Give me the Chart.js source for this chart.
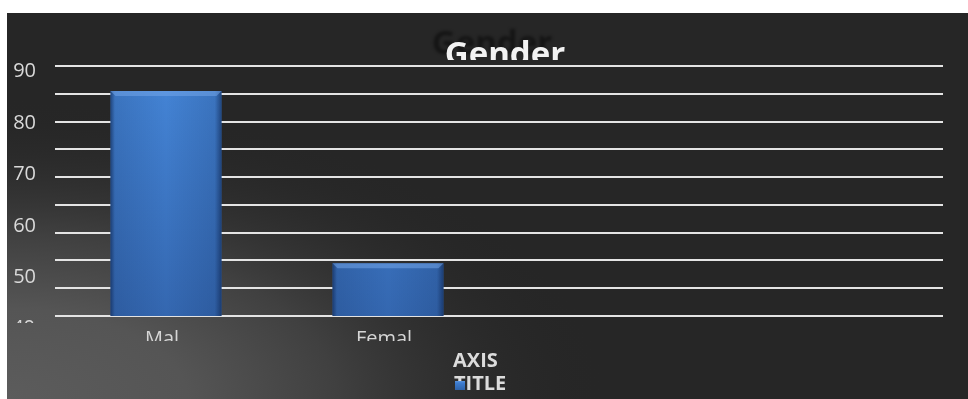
<!DOCTYPE html>
<html>
<head>
<meta charset="utf-8">
<script src="https://cdn.jsdelivr.net/npm/chart.js@4.4.1/dist/chart.umd.min.js"></script>
<style>
    html, body { margin: 0; padding: 0; background: #fff; }
    #wrap { position: absolute; left: 7px; top: 13px; width: 961px; height: 386px; }
</style>
</head>
<body>
<div id="wrap"><canvas id="genderChart"></canvas></div>
<script>
var categories = ['Mal', 'Femal', '', ''];
var counts = [85.5, 54.5, null, null];
var yTicks = [90, 80, 70, 60, 50];
var lowTickLabel = '40';
var chartTitle = 'Gender';
var axisTitle = ['AXIS', 'TITLE'];

var FONT = "'Open Sans', 'DejaVu Sans', sans-serif";

// dark panel with a soft light patch in the lower left corner
function paintBackground(ctx, w, h, x, y, rw, rh) {
    ctx.save();
    ctx.beginPath();
    ctx.rect(x, y, rw, rh);
    ctx.clip();
    ctx.fillStyle = '#262626';
    ctx.fillRect(x, y, rw, rh);
    ctx.translate(0, h);
    ctx.scale(2, 1);
    var g = ctx.createRadialGradient(0, 0, 0, 0, 0, 300);
    g.addColorStop(0, '#5c5c5c');
    g.addColorStop(0.3, '#555555');
    g.addColorStop(0.55, '#404040');
    g.addColorStop(1, 'rgba(38,38,38,0)');
    ctx.fillStyle = g;
    ctx.fillRect(-10, -h - 10, w, h + 20);
    ctx.restore();
}

var panelPlugin = {
    id: 'panel',
    beforeDraw: function (chart) {
        paintBackground(chart.ctx, chart.width, chart.height, 0, 0, chart.width, chart.height);
    },
    afterDatasetsDraw: function (chart) {
        var ctx = chart.ctx;
        var area = chart.chartArea;
        var meta = chart.getDatasetMeta(0);
        meta.data.forEach(function (bar, i) {
            if (counts[i] == null) return;
            var p = bar.getProps(['x', 'y', 'base', 'width'], true);
            var l = p.x - p.width / 2, r = p.x + p.width / 2;
            var t = Math.max(p.y, area.top), b = Math.min(p.base, area.bottom);
            ctx.save();
            // darker side edges
            var gs = ctx.createLinearGradient(l, 0, r, 0);
            gs.addColorStop(0, 'rgba(10,30,70,0.6)');
            gs.addColorStop(0.04, 'rgba(10,30,70,0.15)');
            gs.addColorStop(0.5, 'rgba(10,30,70,0)');
            gs.addColorStop(0.94, 'rgba(10,30,70,0.15)');
            gs.addColorStop(1, 'rgba(10,30,70,0.6)');
            ctx.fillStyle = gs;
            ctx.fillRect(l, t, r - l, b - t);
            // light bevel along the top
            var bv = 5;
            ctx.beginPath();
            ctx.moveTo(l, t);
            ctx.lineTo(r, t);
            ctx.lineTo(r - bv, t + bv);
            ctx.lineTo(l + bv, t + bv);
            ctx.closePath();
            ctx.fillStyle = 'rgba(120,170,235,0.5)';
            ctx.fill();
            ctx.restore();
        });
    },
    afterDraw: function (chart) {
        var ctx = chart.ctx;
        var area = chart.chartArea;

        // category labels are cut off just below their top half
        paintBackground(ctx, chart.width, chart.height, area.left, 328, area.right - area.left, 10);

        // half-hidden lowest value label
        ctx.save();
        ctx.beginPath();
        ctx.rect(0, 306, area.left, 4);
        ctx.clip();
        ctx.font = '20px ' + FONT;
        ctx.fillStyle = '#d9d9d9';
        ctx.textAlign = 'right';
        ctx.textBaseline = 'alphabetic';
        ctx.fillText(lowTickLabel, 28, 321);
        ctx.restore();

        // title with its blurred shadow copy, clipped at the top grid line
        var cx = 498;
        ctx.save();
        ctx.beginPath();
        ctx.rect(0, 0, chart.width, 47);
        ctx.clip();
        ctx.font = 'bold 33px ' + FONT;
        ctx.textAlign = 'center';
        ctx.textBaseline = 'alphabetic';
        ctx.filter = 'blur(1.5px)';
        ctx.fillStyle = 'rgba(0,0,0,0.45)';
        ctx.fillText(chartTitle, cx - 13, 52 - 11);
        ctx.filter = 'none';
        ctx.fillStyle = '#f2f2f2';
        ctx.fillText(chartTitle, cx, 52);
        ctx.restore();

        // x axis title
        ctx.save();
        ctx.font = 'bold 20px ' + FONT;
        ctx.fillStyle = '#dcdcdc';
        ctx.textAlign = 'left';
        ctx.textBaseline = 'alphabetic';
        ctx.fillText(axisTitle[0], 446, 354);
        ctx.fillText(axisTitle[1], 447, 377);
        // legend swatch sitting on the axis title
        var sg = ctx.createLinearGradient(0, 367, 0, 377);
        sg.addColorStop(0, '#6aa2e6');
        sg.addColorStop(0.3, '#3d7cd0');
        sg.addColorStop(1, '#2f63a8');
        ctx.fillStyle = sg;
        ctx.fillRect(448, 368, 10, 9);
        ctx.restore();
    }
};

var ctx = document.getElementById('genderChart');

new Chart(ctx, {
    type: 'bar',
    data: {
        labels: categories,
        datasets: [{
            label: '',
            data: counts,
            backgroundColor: function (c) {
                var area = c.chart.chartArea;
                if (!area) return '#3b78c8';
                var g = c.chart.ctx.createLinearGradient(0, area.top, 0, area.bottom);
                g.addColorStop(0, '#4586d8');
                g.addColorStop(1, '#3467b0');
                return g;
            },
            borderWidth: 0,
            barPercentage: 0.5,
            categoryPercentage: 1.0
        }]
    },
    options: {
        responsive: true,
        maintainAspectRatio: false,
        animation: false,
        layout: {
            padding: { top: 53, right: 25, left: 0, bottom: 0 }
        },
        plugins: {
            legend: { display: false },
            tooltip: { enabled: false },
            title: { display: false }
        },
        scales: {
            x: {
                offset: true,
                grid: { display: false, drawTicks: false },
                border: { display: false },
                ticks: {
                    color: '#d6d6d6',
                    font: { family: FONT, size: 20 },
                    padding: 11,
                    labelOffset: -4,
                    maxRotation: 0,
                    autoSkip: false
                },
                afterFit: function (s) { s.height = 83; }
            },
            // value axis: only the grid lines, every 5
            y: {
                min: 45,
                max: 90,
                grid: { color: '#e4e4e4', lineWidth: 2, drawTicks: false },
                border: { display: false },
                ticks: { display: false, stepSize: 5 },
                afterFit: function (s) { s.width = 0; }
            },
            // label axis: the printed numbers run on a slightly tighter spacing
            yLabels: {
                position: 'left',
                min: 42.475,
                max: 91.089,
                grid: { display: false, drawTicks: false },
                border: { display: false },
                ticks: {
                    stepSize: 10,
                    includeBounds: false,
                    color: '#d9d9d9',
                    font: { family: FONT, size: 20 },
                    padding: 19,
                    callback: function (v) {
                        return yTicks.indexOf(v) >= 0 ? String(v) : '';
                    }
                },
                afterFit: function (s) { s.width = 48; }
            }
        }
    },
    plugins: [panelPlugin]
});
</script>
</body>
</html>
